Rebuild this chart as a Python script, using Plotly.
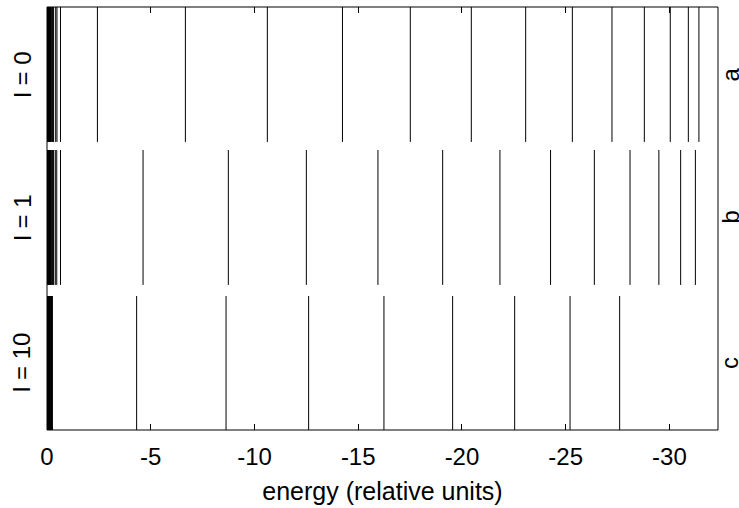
import plotly.graph_objects as go
from plotly.subplots import make_subplots

# Energy levels (relative units)
levels_l0 = [0.0, -0.02, -0.04, -0.06, -0.08, -0.10, -0.12, -0.14, -0.17, -0.20,
             -0.23, -0.26, -0.29, -0.32, -0.42, -0.48, -0.65,
             -2.43, -6.67, -10.62, -14.24, -17.51, -20.45, -23.07, -25.32,
             -27.23, -28.79, -30.04, -30.91, -31.42]
levels_l1 = [0.0, -0.02, -0.04, -0.06, -0.08, -0.10, -0.12, -0.14, -0.17, -0.20,
             -0.23, -0.26, -0.29, -0.32, -0.40, -0.47, -0.65,
             -4.63, -8.74, -12.50, -15.95, -19.07, -21.83, -24.27, -26.38,
             -28.10, -29.49, -30.54, -31.25]
levels_l10 = [0.0, -0.02, -0.04, -0.06, -0.08, -0.10, -0.12, -0.14, -0.16, -0.18,
              -0.20, -0.22, -0.24, -0.26,
              -4.32, -8.63, -12.61, -16.24, -19.55, -22.54, -25.21, -27.60]

panel_levels = [levels_l0, levels_l1, levels_l10]
panel_left_labels = ["l = 0", "l = 1", "l = 10"]
panel_right_labels = ["a", "b", "c"]

tick_values = [0, -5, -10, -15, -20, -25, -30]
tick_labels = ["0", "-5", "-10", "-15", "-20", "-25", "-30"]
x_title = "energy (relative units)"
x_range = [0.0, -32.34]

FONT = "Liberation Sans, Arial, sans-serif"
FS = 24

fig = make_subplots(rows=3, cols=1, shared_xaxes=True, vertical_spacing=0.02)

for i, levels in enumerate(panel_levels):
    xs, ys = [], []
    for e in levels:
        xs += [e, e, None]
        ys += [0, 1, None]
    fig.add_trace(go.Scatter(x=xs, y=ys, mode="lines",
                             line=dict(color="black", width=1),
                             hoverinfo="skip", showlegend=False),
                  row=i + 1, col=1)

domains = [[0.681, 1.0], [0.343, 0.662], [0.0, 0.317]]
for i in range(3):
    yname = "yaxis" if i == 0 else f"yaxis{i+1}"
    fig.layout[yname].update(domain=domains[i], range=[0, 1], visible=False, fixedrange=True)
    xname = "xaxis" if i == 0 else f"xaxis{i+1}"
    fig.layout[xname].update(range=x_range, autorange=False, showgrid=False,
                             zeroline=False, showline=False, tickvals=tick_values,
                             ticktext=tick_labels, ticks="inside", ticklen=6,
                             tickcolor="black", tickwidth=1,
                             showticklabels=False, fixedrange=True)

fig.layout.xaxis.update(side="top")
fig.layout.xaxis2.update(ticks="")
fig.layout.xaxis3.update(showticklabels=True, ticklabelstandoff=10,
                         tickfont=dict(family=FONT, size=FS, color="black"),
                         title=dict(text=x_title, font=dict(family=FONT, size=25, color="black"),
                                    standoff=13))

annotations = []
for i in range(3):
    yc = (domains[i][0] + domains[i][1]) / 2
    annotations.append(dict(text=panel_left_labels[i], xref="paper", yref="paper",
                            x=0, y=yc, xshift=-25, xanchor="center", yanchor="middle",
                            textangle=-90, showarrow=False,
                            font=dict(family=FONT, size=FS, color="black")))
    annotations.append(dict(text=panel_right_labels[i], xref="paper", yref="paper",
                            x=1, y=yc, xshift=12, xanchor="center", yanchor="middle",
                            textangle=-90, showarrow=False,
                            font=dict(family=FONT, size=FS, color="black")))

fig.update_layout(
    width=739, height=508,
    margin=dict(l=47, r=21, t=7, b=78),
    plot_bgcolor="white", paper_bgcolor="white",
    annotations=annotations,
    shapes=[dict(type="rect", xref="paper", yref="paper", x0=0, x1=1, y0=0, y1=1,
                 line=dict(color="black", width=1), layer="above")],
)

fig.write_html("out.html", config={"displayModeBar": False},
               post_script="document.body.style.margin='0';")
